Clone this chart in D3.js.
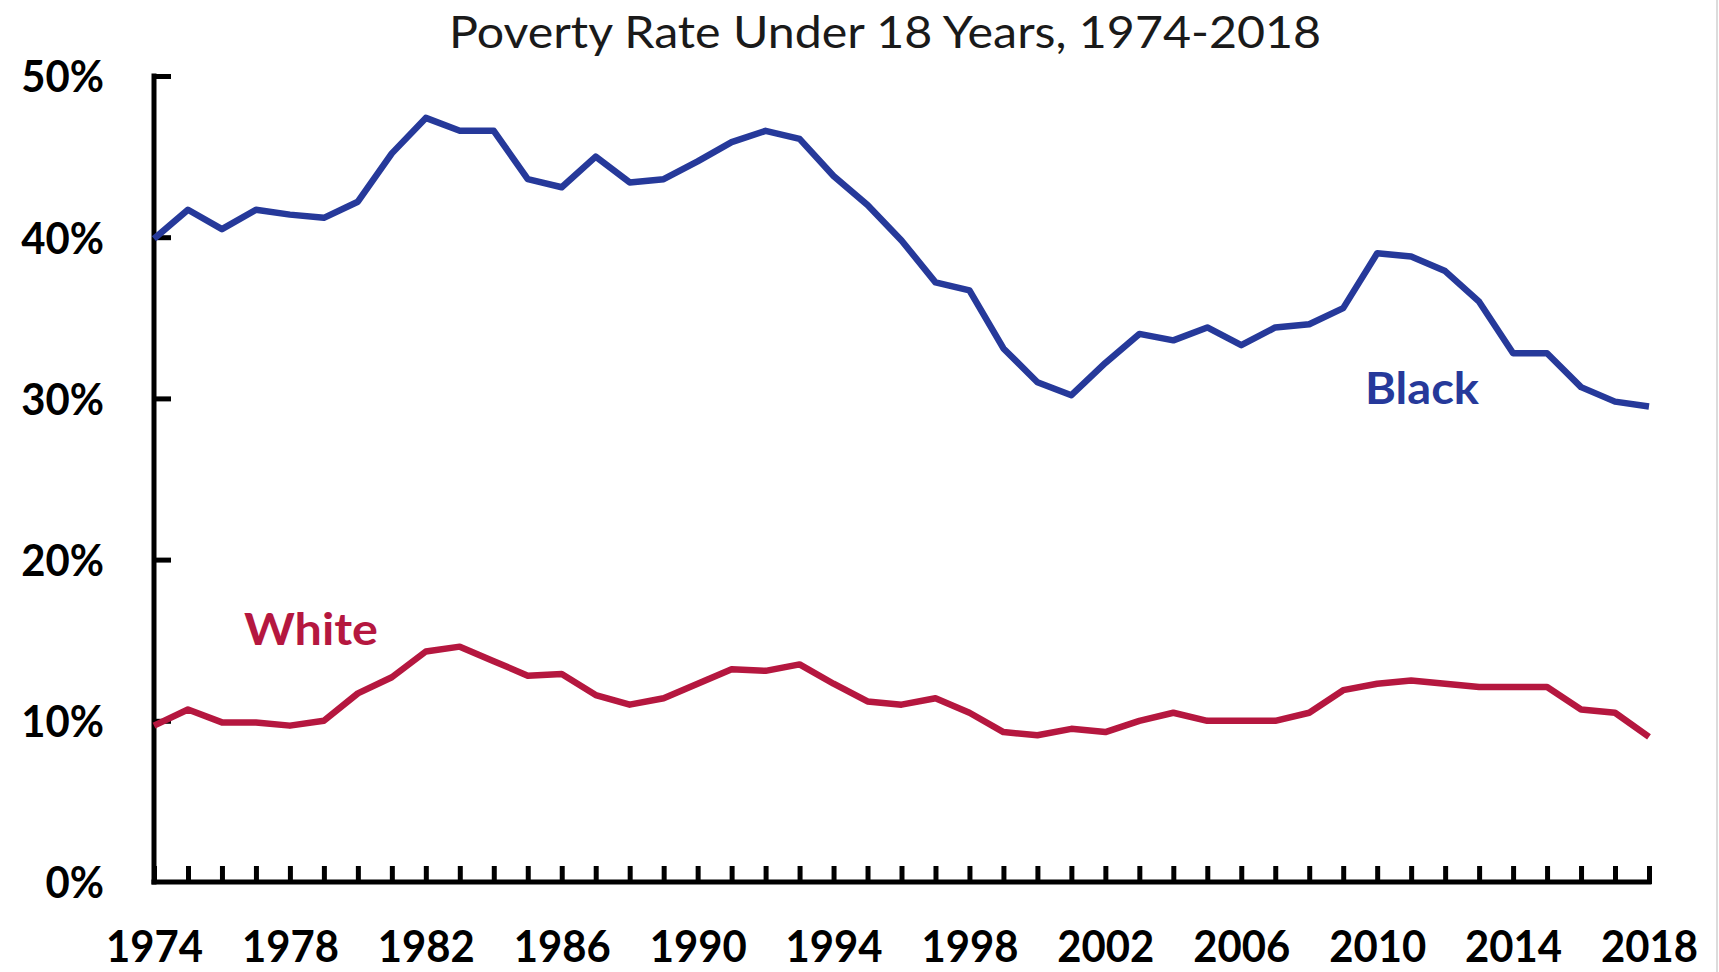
<!DOCTYPE html>
<html>
<head>
<meta charset="utf-8">
<script src="https://cdn.jsdelivr.net/npm/d3@7"></script>
<style>
  html, body { margin: 0; padding: 0; background: #fff; }
  svg { display: block; }
</style>
</head>
<body>
<script>
const years = d3.range(1974, 2019);
const blackRate = [39.9,41.7,40.5,41.7,41.4,41.2,42.2,45.2,47.4,46.6,
                   46.6,43.6,43.1,45.0,43.4,43.6,44.7,45.9,46.6,46.1,
                   43.8,42.0,39.8,37.2,36.7,33.1,31.0,30.2,32.2,34.0,
                   33.6,34.4,33.3,34.4,34.6,35.6,39.0,38.8,37.9,36.0,
                   32.8,32.8,30.7,29.8,29.5];
const whiteRate = [9.7,10.7,9.9,9.9,9.7,10.0,11.7,12.7,14.3,14.6,
                   13.7,12.8,12.9,11.6,11.0,11.4,12.3,13.2,13.1,13.5,
                   12.3,11.2,11.0,11.4,10.5,9.3,9.1,9.5,9.3,10.0,
                   10.5,10.0,10.0,10.0,10.5,11.9,12.3,12.5,12.3,12.1,
                   12.1,12.1,10.7,10.5,9.0];
const yTicks = [0, 10, 20, 30, 40, 50];
const xLabelYears = [1974, 1978, 1982, 1986, 1990, 1994, 1998, 2002, 2006, 2010, 2014, 2018];
const titleText = "Poverty Rate Under 18 Years, 1974-2018";
const seriesLabels = ["Black", "White"];

const W = 1719, H = 972;
const FONT = "Lato, 'Open Sans', 'Liberation Sans', sans-serif";
const BLUE = "#26399a", RED = "#b5173f";

const svg = d3.select("body").append("svg").attr("width", W).attr("height", H);

const x = d3.scaleLinear().domain([1974, 2018]).range([154, 1649]);
const y = d3.scaleLinear().domain([0, 50]).range([882, 76]);

// right border line
svg.append("line").attr("x1", 1717).attr("x2", 1717).attr("y1", 0).attr("y2", H)
  .attr("stroke", "#d0d0d0").attr("stroke-width", 1.5);

// title
const title = svg.append("text")
  .attr("x", 885).attr("y", 48).attr("text-anchor", "middle")
  .attr("font-family", FONT).attr("font-size", 44).attr("fill", "#1a1a1a")
  .text(titleText);
title.attr("textLength", 872).attr("lengthAdjust", "spacingAndGlyphs");

// y axis
const yAxis = d3.axisLeft(y).tickValues(yTicks).tickFormat(d => d + "%")
  .tickSizeInner(-17).tickSizeOuter(0).tickPadding(50);
const gy = svg.append("g").attr("transform", `translate(${x(1974)},0)`).call(yAxis);
gy.select(".domain").attr("stroke", "#000").attr("stroke-width", 5)
  .attr("d", `M0,${y(50)-2.5}V${y(0)+2.5}`);
gy.selectAll(".tick line").attr("stroke", "#000").attr("stroke-width", 5)
  .filter(d => d === 0).remove();
gy.selectAll(".tick text").attr("font-family", FONT).attr("font-weight", 700)
  .attr("font-size", 44).attr("fill", "#000").attr("dy", "0.36em");

// x axis
const xAxis = d3.axisBottom(x).tickValues(years)
  .tickFormat(d => xLabelYears.includes(d) ? String(d) : "")
  .tickSizeInner(-16).tickSizeOuter(0).tickPadding(0);
const gx = svg.append("g").attr("transform", `translate(0,${y(0)})`).call(xAxis);
gx.select(".domain").attr("stroke", "#000").attr("stroke-width", 5)
  .attr("d", `M${x(1974)-2.5},0H${x(2018)+2.5}`);
gx.selectAll(".tick line").attr("stroke", "#000").attr("stroke-width", 5)
  .attr("y1", 2);
gx.selectAll(".tick text").attr("font-family", FONT).attr("font-weight", 700)
  .attr("font-size", 44).attr("fill", "#000").attr("y", 80).attr("dy", 0);

// compress tick labels to Calibri-like width
(function () {
  const ref = gx.selectAll(".tick text").filter(d => d === 1974).node();
  const ratio = 97 / ref.getComputedTextLength();
  svg.selectAll(".tick text").each(function () {
    const t = d3.select(this);
    if (!t.text()) return;
    const w = this.getComputedTextLength();
    t.attr("textLength", w * ratio).attr("lengthAdjust", "spacingAndGlyphs");
  });
})();

// lines
const line = d3.line().x((d, i) => x(years[i])).y(d => y(d));
svg.append("path").datum(whiteRate).attr("d", line)
  .attr("fill", "none").attr("stroke", RED).attr("stroke-width", 6.5)
  .attr("stroke-linejoin", "round");
svg.append("path").datum(blackRate).attr("d", line)
  .attr("fill", "none").attr("stroke", BLUE).attr("stroke-width", 6.5)
  .attr("stroke-linejoin", "round");

// series labels
const bl = svg.append("text").attr("x", 1365).attr("y", 404)
  .attr("font-family", FONT).attr("font-weight", 700).attr("font-size", 44)
  .attr("fill", BLUE).text(seriesLabels[0]);
bl.attr("textLength", 114).attr("lengthAdjust", "spacingAndGlyphs");
const wl = svg.append("text").attr("x", 244).attr("y", 645)
  .attr("font-family", FONT).attr("font-weight", 700).attr("font-size", 44)
  .attr("fill", RED).text(seriesLabels[1]);
wl.attr("textLength", 134).attr("lengthAdjust", "spacingAndGlyphs");
</script>
</body>
</html>
